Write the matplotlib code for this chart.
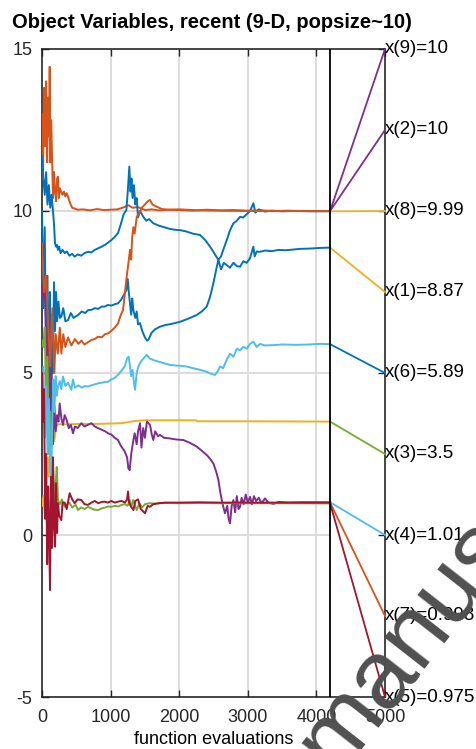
import numpy as np
import matplotlib
matplotlib.use("Agg")
import matplotlib.pyplot as plt

plt.rcParams['font.family'] = ['Liberation Sans', 'DejaVu Sans']
plt.rcParams['axes.unicode_minus'] = False

# MATLAB default colour order
BLUE = "#0072BD"
ORANGE = "#D95319"
YELLOW = "#EDB120"
PURPLE = "#7E2F8E"
GREEN = "#77AC30"
LIGHTBLUE = "#4DBEEE"
DARKRED = "#A2142F"

# --- values ------------------------------------------------------------
x1_ev = [0, 20, 40, 60, 80, 100, 115, 130, 145, 160, 175, 190, 205, 220, 240, 260, 282,
         310, 340, 379, 420, 460, 525, 580, 630, 671, 720, 770, 820, 870, 914, 960, 1010,
         1060, 1108, 1150, 1190, 1230, 1250, 1265, 1280, 1300, 1315, 1332, 1360, 1380,
         1400, 1429, 1460, 1500, 1530, 1550, 1600, 1650, 1720, 1800, 1900, 2012, 2100,
         2180, 2255, 2330, 2401, 2450, 2498, 2540, 2571, 2610, 2650, 2693, 2740, 2790,
         2840, 2887, 2935, 2984, 3033, 3081, 3100, 3130, 3178, 3250, 3350, 3450, 3550,
         3616, 3750, 3900, 4050, 4200]
x1 = [10.0, 7.0, 9.5, 5.5, 8.0, 4.0, 7.5, 3.5, 6.8, 5.0, 7.8, 6.3, 7.5, 6.6, 7.2, 6.7, 6.74,
      7.0, 6.6, 6.63, 6.85, 6.7, 6.79, 6.9, 6.85, 6.94, 6.95, 7.0, 6.98, 7.05, 7.05, 7.1,
      7.08, 7.12, 7.15, 7.25, 7.4, 7.56, 7.9, 7.5, 7.2, 6.8, 7.3, 6.94, 6.7, 6.9, 6.5,
      6.54, 6.3, 6.1, 6.0, 6.02, 6.25, 6.35, 6.43, 6.48, 6.52, 6.58, 6.65, 6.72, 6.79,
      6.9, 7.05, 7.35, 7.77, 8.2, 8.49, 8.2, 8.4, 8.33, 8.25, 8.4, 8.3, 8.28, 8.45, 8.4,
      8.55, 8.9, 8.6, 8.75, 8.74, 8.78, 8.76, 8.8, 8.79, 8.8, 8.83, 8.84, 8.86, 8.87]

x2_ev = [0, 15, 30, 45, 60, 75, 90, 105, 112, 120, 135, 150, 160, 175, 190, 205, 220,
         233, 245, 260, 280, 300, 320, 340, 360, 380, 400, 420, 440, 470, 520, 600, 700,
         800, 900, 1000, 1100, 1200, 1260, 1320, 1400, 1500, 1600, 1700, 1850, 2000,
         2200, 2400, 2600, 2800, 3000, 3200, 3400, 3600, 3800, 4000, 4200]
x2 = [13.0, 11.0, 13.8, 12.0, 14.0, 11.5, 13.5, 12.3, 14.45, 11.5, 12.8, 11.37, 10.4,
      11.2, 10.6, 10.3, 11.0, 11.06, 10.4, 10.7, 10.6, 10.5, 10.6, 10.45, 10.55, 10.44,
      10.3, 10.19, 10.1, 10.08, 10.04, 10.05, 10.02, 10.06, 10.03, 10.04, 10.05, 10.12,
      10.18, 10.1, 10.12, 10.03, 10.05, 10.02, 10.04, 10.03, 10.01, 10.04, 10.02, 10.03,
      10.01, 10.02, 10.0, 10.01, 10.0, 10.0, 10.0]

x3_ev = [0, 20, 40, 60, 80, 100, 120, 140, 160, 180, 200, 220, 240, 300, 400, 600, 800,
         1000, 1150, 1250, 1350, 1500, 2000, 2250, 2260, 3000, 4200]
x3 = [0.9, 1.2, 0.6, 1.5, 2.4, 1.8, 3.0, 2.7, 3.2, 2.9, 3.3, 3.38, 3.42, 3.41, 3.42, 3.43,
      3.43, 3.44, 3.45, 3.48, 3.52, 3.54, 3.54, 3.54, 3.51, 3.51, 3.5]

x4_ev = [0, 20, 40, 60, 80, 100, 120, 140, 160, 180, 200, 220, 240, 258, 282, 306, 330,
         360, 390, 420, 452, 480, 520, 573, 620, 670, 719, 770, 816, 870, 920, 962, 1010,
         1060, 1108, 1150, 1200, 1240, 1259, 1278, 1300, 1332, 1351, 1380, 1400, 1429,
         1450, 1475, 1500, 1530, 1575, 1600, 1623, 1650, 1690, 1720, 1780, 1866, 1950,
         2061, 2150, 2255, 2330, 2401, 2450, 2498, 2540, 2571, 2600, 2620, 2645, 2668,
         2700, 2720, 2741, 2765, 2790, 2815, 2840, 2865, 2887, 2910, 2940, 2970, 3000,
         3033, 3060, 3090, 3120, 3160, 3200, 3251, 3300, 3372, 3450, 3600, 3800, 4000, 4200]
x4 = [7.7, 7.3, 8.0, 6.0, 4.5, 6.5, 3.0, 5.0, 2.8, 4.0, 3.2, 3.7, 3.5, 4.06, 3.6, 3.4, 3.7,
      3.55, 3.3, 3.4, 3.14, 3.35, 3.3, 3.45, 3.35, 3.4, 3.45, 3.35, 3.3, 3.25, 3.2, 3.14,
      3.1, 3.0, 2.93, 2.75, 2.6, 2.4, 2.06, 2.0, 2.5, 2.93, 3.14, 2.8, 3.2, 3.45, 2.7, 3.3,
      3.0, 3.5, 3.4, 3.1, 2.93, 3.2, 3.05, 3.09, 3.0, 2.98, 2.95, 2.93, 2.85, 2.73, 2.6,
      2.47, 2.35, 2.21, 1.95, 1.7, 1.3, 1.08, 0.85, 0.67, 0.9, 0.5, 0.36, 0.9, 1.08, 0.7,
      1.2, 0.8, 0.87, 1.15, 0.95, 1.25, 1.0, 1.18, 0.95, 1.2, 1.05, 1.15, 0.98, 1.13, 1.0,
      0.96, 1.02, 1.0, 1.01, 1.01, 1.01]

x5_ev = [0, 20, 40, 60, 80, 100, 120, 140, 160, 180, 200, 215, 233, 260, 290, 331, 370,
         400, 440, 490, 525, 570, 620, 671, 720, 770, 816, 870, 920, 962, 1011, 1060,
         1110, 1160, 1210, 1250, 1278, 1300, 1330, 1380, 1420, 1460, 1500, 1560, 1650,
         1800, 2000, 2300, 2600, 3000, 3500, 4200]
x5 = [6.0, 5.8, 6.4, 4.0, 5.5, 2.5, 3.8, 1.5, 2.2, 0.9, 1.6, 2.1, 1.08, 0.95, 1.1, 0.87,
      0.95, 1.0, 0.85, 0.93, 0.77, 0.85, 0.8, 0.87, 0.82, 0.78, 0.77, 0.82, 0.85, 0.88,
      0.87, 0.9, 0.88, 0.93, 0.95, 0.9, 1.08, 0.87, 1.08, 0.77, 0.98, 0.85, 0.95, 0.98,
      0.97, 0.99, 0.98, 0.99, 0.98, 0.98, 0.98, 0.975]

x6_ev = [0, 20, 40, 60, 80, 100, 120, 136, 150, 165, 180, 200, 215, 233, 260, 282, 306,
         340, 380, 428, 450, 480, 530, 580, 630, 671, 720, 770, 816, 870, 920, 962, 1010,
         1060, 1108, 1150, 1205, 1240, 1264, 1283, 1300, 1320, 1340, 1356, 1380, 1405,
         1440, 1480, 1526, 1570, 1623, 1700, 1780, 1866, 1950, 2030, 2109, 2200, 2300,
         2401, 2460, 2522, 2560, 2595, 2640, 2690, 2741, 2790, 2840, 2887, 2935, 2984,
         3033, 3081, 3130, 3180, 3250, 3372, 3500, 3700, 3900, 4050, 4200]
x6 = [4.0, 5.2, 3.0, 4.6, 2.5, 4.2, 2.0, 1.8, 3.5, 4.8, 3.8, 4.9, 4.3, 4.58, 4.75, 4.5,
      4.89, 4.6, 4.7, 4.48, 4.8, 4.55, 4.62, 4.55, 4.6, 4.58, 4.62, 4.65, 4.68, 4.7, 4.72,
      4.73, 4.8, 4.85, 4.94, 5.05, 5.2, 5.45, 5.5, 5.2, 4.9, 5.1, 4.7, 4.48, 5.0, 5.2,
      5.35, 5.45, 5.56, 5.45, 5.4, 5.35, 5.3, 5.25, 5.23, 5.22, 5.2, 5.15, 5.1, 5.04,
      4.98, 4.94, 5.05, 5.2, 5.15, 5.4, 5.6, 5.5, 5.75, 5.7, 5.81, 5.75, 5.9, 5.97, 5.8,
      5.9, 5.85, 5.86, 5.88, 5.87, 5.88, 5.9, 5.89]

x7_ev = [0, 15, 30, 45, 60, 75, 90, 105, 117, 130, 145, 160, 175, 190, 205, 220, 233,
         250, 282, 300, 331, 360, 403, 440, 476, 520, 573, 620, 670, 720, 770, 820, 870,
         914, 960, 1010, 1060, 1110, 1160, 1210, 1240, 1254, 1270, 1300, 1333, 1360, 1400,
         1440, 1502, 1540, 1575, 1620, 1700, 1800, 2000, 2300, 2600, 3000, 3500, 4200]
x7 = [5.0, 3.5, 4.5, 0.5, 2.5, -0.9, 1.5, -0.2, -1.7, 1.8, -0.4, 2.4, 0.3, -0.36, 1.6,
      0.06, 0.98, 0.6, 0.46, 1.0, 1.0, 0.8, 1.29, 1.1, 0.98, 1.1, 1.08, 0.95, 0.93, 1.0,
      1.05, 0.98, 1.02, 1.03, 1.0, 1.05, 1.0, 1.03, 1.05, 1.0, 1.1, 1.34, 1.0, 0.87, 0.77,
      1.05, 1.1, 0.8, 0.67, 0.9, 0.87, 0.95, 0.98, 1.0, 1.0, 1.01, 1.0, 1.0, 1.0, 0.998]

x8_ev = [0, 20, 40, 60, 80, 100, 120, 140, 160, 175, 190, 205, 220, 233, 250, 270, 300,
         331, 360, 400, 440, 476, 520, 570, 620, 671, 720, 770, 820, 870, 914, 960, 1010,
         1060, 1108, 1150, 1190, 1230, 1250, 1273, 1290, 1305, 1320, 1340, 1360, 1380,
         1400, 1430, 1477, 1520, 1560, 1623, 1700, 1780, 1860, 1940, 2012, 2100, 2200,
         2304, 2380, 2450, 2510, 2571, 2610, 2650, 2693, 2740, 2790, 2840, 2887, 2930,
         2984, 3033, 3081, 3110, 3160, 3250, 3350, 3500, 3700, 3900, 4200]
x8 = [11.7, 11.0, 10.5, 11.2, 10.2, 10.8, 10.1, 10.5, 10.0, 9.6, 9.0, 8.9, 8.95, 8.8,
      8.9, 8.7, 8.8, 8.7, 8.75, 8.62, 8.68, 8.59, 8.66, 8.62, 8.7, 8.74, 8.72, 8.8, 8.85,
      8.9, 8.95, 9.02, 9.1, 9.2, 9.32, 9.6, 9.9, 10.03, 10.6, 11.37, 10.6, 11.0, 10.4,
      10.8, 10.2, 10.4, 9.8, 10.0, 9.82, 9.7, 9.75, 9.62, 9.55, 9.5, 9.45, 9.42, 9.41,
      9.37, 9.3, 9.26, 9.1, 8.9, 8.7, 8.49, 8.6, 8.85, 9.1, 9.4, 9.62, 9.7, 9.82, 9.8,
      9.9, 10.0, 10.24, 9.95, 10.05, 9.98, 10.01, 9.99, 10.0, 9.99, 9.99]

x9_ev = [0, 30, 60, 90, 120, 150, 180, 200, 230, 260, 282, 310, 340, 379, 428, 480, 530,
         573, 620, 671, 720, 770, 816, 870, 920, 962, 1010, 1060, 1108, 1150, 1181, 1205,
         1230, 1260, 1283, 1300, 1315, 1332, 1350, 1381, 1420, 1453, 1500, 1540, 1575,
         1610, 1672, 1750, 1850, 2000, 2300, 2600, 3000, 3500, 4200]
x9 = [9.0, 7.5, 8.0, 6.5, 5.2, 7.0, 5.0, 6.2, 5.6, 6.4, 5.6, 6.2, 5.8, 6.1, 5.85, 6.05,
      5.9, 6.0, 5.88, 5.95, 6.02, 6.05, 6.12, 6.1, 6.2, 6.22, 6.3, 6.4, 6.53, 6.8, 6.94,
      7.4, 7.9, 8.4, 8.8, 8.5, 9.2, 9.5, 9.3, 9.82, 9.95, 10.1, 10.2, 10.3, 10.34, 10.2,
      10.13, 10.06, 10.04, 10.05, 10.02, 10.01, 10.0, 10.0, 10.0]

# right-hand annotation, top to bottom
label_text = ["x(9)=10", "x(2)=10", "x(8)=9.99", "x(1)=8.87", "x(6)=5.89",
              "x(3)=3.5", "x(4)=1.01", "x(7)=0.998", "x(5)=0.975"]
label_final = [10.0, 10.0, 9.99, 8.87, 5.89, 3.5, 1.01, 0.998, 0.975]
label_color = [PURPLE, PURPLE, YELLOW, YELLOW, BLUE, GREEN, LIGHTBLUE, ORANGE, DARKRED]

series = [(x1_ev, x1, BLUE), (x2_ev, x2, ORANGE), (x3_ev, x3, YELLOW),
          (x4_ev, x4, PURPLE), (x5_ev, x5, GREEN), (x6_ev, x6, LIGHTBLUE),
          (x7_ev, x7, DARKRED), (x8_ev, x8, BLUE), (x9_ev, x9, ORANGE)]
last_eval = 4200

fig = plt.figure(figsize=(4.77, 7.49), dpi=100)
ax = fig.add_axes([42 / 477, 52 / 749, 343 / 477, 648 / 749])

for ev, vals, col in series:
    ax.plot(ev, vals, color=col, lw=1.4, zorder=3)

# grid: vertical lines full height, horizontal ones only over the data part
for gx in [1000, 2000, 3000, 4000]:
    ax.axvline(gx, color="#dcdcdc", lw=1.4, zorder=1)
for gy in [0, 5, 10]:
    ax.plot([0, last_eval], [gy, gy], color="#dcdcdc", lw=1.4, zorder=1)
ax.axvline(last_eval, color="black", lw=1.3, zorder=4)

label_y = np.linspace(15, -5, len(label_text))
for txt, yv, yl, col in zip(label_text, label_final, label_y, label_color):
    ax.plot([last_eval, 5000], [yv, yl], color=col, lw=1.3, zorder=3, clip_on=False)
    ax.text(5000, yl, txt, ha="left", va="center", fontsize=13.5, clip_on=False, zorder=5)

ax.set_xlim(0, 5000)
ax.set_ylim(-5, 15)
ax.set_xticks([0, 1000, 2000, 3000, 4000, 5000])
ax.set_yticks([-5, 0, 5, 10, 15])
ax.tick_params(direction="in", length=5, width=1, labelsize=13, top=True, right=True,
               colors="#262626")
ax.tick_params(axis="x", pad=9)
ax.tick_params(axis="y", pad=7)
for sp in ax.spines.values():
    sp.set_linewidth(1.2)
    sp.set_color("#262626")
ax.set_xlabel("function evaluations", fontsize=13, labelpad=3)

fig.text(12 / 477, 1 - 22 / 749, "Object Variables, recent (9-D, popsize~10)",
         fontsize=14.5, fontweight="bold", ha="left", va="center")

# watermark over the lower right corner
fig.text(336 / 477, -26 / 749, "manuscript", fontsize=70, color="#505050",
         rotation=52, rotation_mode="anchor", ha="left", va="baseline", zorder=10)

fig.savefig("out.png", dpi=100)
